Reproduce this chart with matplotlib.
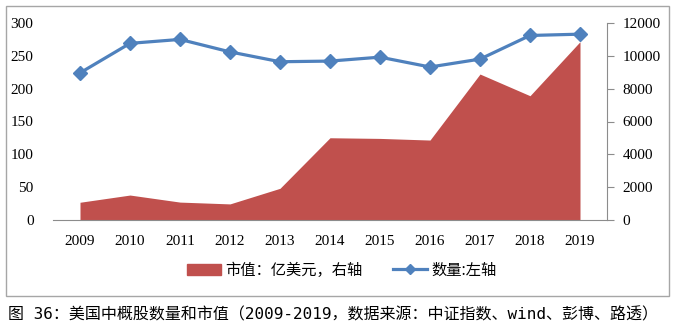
import matplotlib.pyplot as plt
from matplotlib.patches import Rectangle
from matplotlib.lines import Line2D
import matplotlib.patches as mpatches

plt.rcParams['font.family'] = ['Liberation Serif', 'Noto Sans CJK SC', 'DejaVu Sans']

years = ['2009', '2010', '2011', '2012', '2013', '2014', '2015', '2016', '2017', '2018', '2019']
market_cap = [1080, 1520, 1090, 980, 1930, 5010, 4970, 4870, 8890, 7570, 10860]  # 亿美元, right axis
count = [224, 269, 275, 256, 241, 242, 248, 233, 245, 281, 283]  # left axis

red = '#C0504D'
blue = '#4F81BD'
grey = '#8c8c8c'

fig = plt.figure(figsize=(6.8, 3.33), dpi=100)
fig.patches.append(Rectangle((6 / 680, 1 - 296 / 333), 663 / 680, 290 / 333,
                             transform=fig.transFigure, fill=False,
                             edgecolor='#a6a6a6', linewidth=1.0))

ax = fig.add_axes([53 / 680, 1 - 220 / 333, 554 / 680, 197 / 333])
x = list(range(len(years)))
ax.fill_between(x, market_cap, 0, color=red, linewidth=0)
ax.set_xlim(-0.54, 10.54)
ax.set_ylim(0, 12000)
ax.set_yticks(range(0, 12001, 2000))
ax.set_xticks(x)
ax.set_xticklabels(years)
ax.tick_params(axis='x', length=0, pad=11, labelsize=11)
for s in ['top', 'left']:
    ax.spines[s].set_visible(False)
ax.spines['right'].set_color(grey)
ax.spines['bottom'].set_color(grey)

# count line on a twin axis so it sits above the area
ax2 = ax.twinx()
ax2.plot(x, count, color=blue, linewidth=2.3, marker='D', markersize=7)
ax2.set_ylim(0, 300)
ax2.set_yticks(range(0, 301, 50))
for s in ['top', 'left', 'right', 'bottom']:
    ax2.spines[s].set_visible(False)

# swap sides: market cap scale on the right, count on the left
ax.yaxis.tick_right()
ax.tick_params(axis='y', which='both', left=False, labelleft=False, right=True, labelright=True,
               direction='out', length=5, color=grey, pad=6, labelsize=11)
ax2.yaxis.tick_left()
ax2.tick_params(axis='y', which='both', right=False, labelright=False, left=True, labelleft=True,
                length=0, pad=14, labelsize=11)

handles = [mpatches.Patch(color=red, label='市值：亿美元，右轴'),
           Line2D([], [], color=blue, linewidth=2.3, marker='D', markersize=5, label='数量:左轴')]
fig.legend(handles=handles, loc='center', bbox_to_anchor=(342 / 680, 1 - 270 / 333),
           ncol=2, frameon=False, handlelength=2.2, handletextpad=0.3, columnspacing=2.0,
           prop={'family': ['Noto Sans CJK SC'], 'size': 11})

fig.text(8 / 680, 1 - 315 / 333,
         '图 36：美国中概股数量和市值（2009-2019，数据来源：中证指数、wind、彭博、路透）',
         ha='left', va='center', fontsize=11.5, family=['DejaVu Sans Mono', 'Noto Sans CJK SC'])

fig.savefig('out.png', dpi=100)
